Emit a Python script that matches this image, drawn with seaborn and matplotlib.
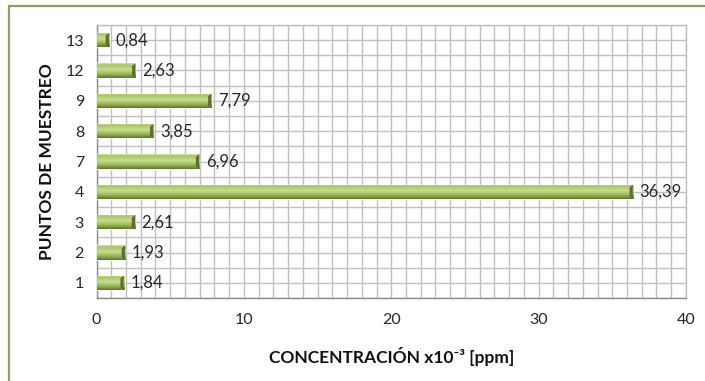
import matplotlib
matplotlib.use("Agg")
import matplotlib.pyplot as plt
import numpy as np
import pandas as pd
import seaborn as sns
from matplotlib.colors import LinearSegmentedColormap
from matplotlib.patches import Polygon, Rectangle
from matplotlib.ticker import MultipleLocator, FixedLocator, StrMethodFormatter

# Data
puntos = ["1", "2", "3", "4", "7", "8", "9", "12", "13"]
concentracion = [1.84, 1.93, 2.61, 36.39, 6.96, 3.85, 7.79, 2.63, 0.84]

df = pd.DataFrame({"punto": puntos, "conc": concentracion})

sns.set_style("white")
plt.rcParams["font.family"] = ["Lato", "DejaVu Sans"]

fig = plt.figure(figsize=(7.05, 3.81), dpi=100)
ax = fig.add_axes([0.1369, 0.2178, 0.8361, 0.7166])

order = puntos[::-1]
sns.barplot(data=df, x="conc", y="punto", order=order, orient="h",
            color="#9BBB59", width=0.47, ax=ax, zorder=3)

# bevel-like gradient on each bar
bar_cmap = LinearSegmentedColormap.from_list(
    "bev",
    [(0.0, "#D3E3A6"), (0.12, "#A9C562"), (0.45, "#C8DC90"),
     (0.75, "#95B552"), (1.0, "#5C7826")],
)
grad = np.linspace(0, 1, 64).reshape(-1, 1)
for p in list(ax.patches):
    x0, y0 = p.get_x(), p.get_y()
    w, h = p.get_width(), p.get_height()
    im = ax.imshow(grad, cmap=bar_cmap, aspect="auto", origin="upper",
                   extent=[x0, x0 + w, y0 + h, y0], zorder=3.5,
                   interpolation="bilinear")
    im.set_clip_path(p)
    d = min(0.22, w * 0.3)
    e = h * 0.18
    ax.add_patch(Polygon([(x0 + w - d, y0 + e), (x0 + w, y0),
                          (x0 + w, y0 + h), (x0 + w - d, y0 + h - e)],
                         closed=True, facecolor="#5A7326", edgecolor="none",
                         zorder=4))
    ax.text(x0 + w + 0.45, y0 + h / 2, f"{w:.2f}".replace(".", ","),
            va="center", ha="left", fontsize=12, color="#262626", zorder=5)

ax.set_xlim(0, 40)
ax.set_ylim(len(order) - 0.5, -0.5)

# grid
grid_col = "#C0C0C0"
ax.xaxis.set_major_locator(MultipleLocator(10))
ax.xaxis.set_minor_locator(MultipleLocator(1))
ax.xaxis.set_major_formatter(StrMethodFormatter("{x:.0f}"))
ax.yaxis.set_minor_locator(FixedLocator(np.arange(-0.5, len(order), 1.0)))
ax.grid(True, which="both", color=grid_col, linewidth=1.0)
ax.set_axisbelow(True)

for s in ax.spines.values():
    s.set_color(grid_col)
    s.set_linewidth(1.0)
ax.spines["left"].set_color("#8C8C8C")
ax.spines["bottom"].set_color("#8C8C8C")

ax.tick_params(axis="x", which="major", length=5, color="#8C8C8C",
               labelsize=11.5, labelcolor="#262626", pad=6)
ax.tick_params(axis="x", which="minor", length=0)
ax.tick_params(axis="y", which="major", length=0, labelsize=11.5,
               labelcolor="#262626", pad=9)
ax.tick_params(axis="y", which="minor", length=5, color="#8C8C8C")

ax.set_xlabel("CONCENTRACIÓN x10⁻³ [ppm]", fontsize=12.5, fontweight="bold",
              color="#111111")
ax.set_ylabel("PUNTOS DE MUESTREO", fontsize=12.5, fontweight="bold",
              color="#111111")
ax.xaxis.set_label_coords(0.5, -0.18)
ax.yaxis.set_label_coords(-0.07, 0.5)

# chart frame border
fig.patches.append(Rectangle((9 / 705, -0.1), 1.2, (381 - 6) / 381 + 0.1,
                             transform=fig.transFigure, fill=False,
                             edgecolor="#A0965F", linewidth=1.6))

fig.savefig("out.png", dpi=100)
